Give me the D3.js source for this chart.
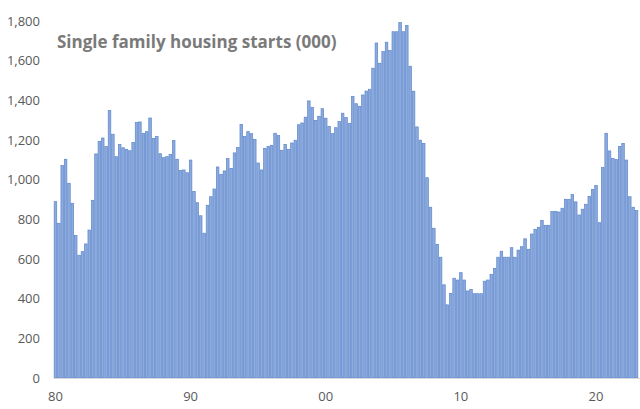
<!DOCTYPE html>
<html>
<head>
<meta charset="utf-8">
<script src="https://cdn.jsdelivr.net/npm/d3@7/dist/d3.min.js"></script>
<style>
  html, body { margin: 0; padding: 0; background: #ffffff; }
  svg { display: block; }
</style>
</head>
<body>
<svg id="chart" width="640" height="409"></svg>
<script>
// Quarterly single-family housing starts (000, SAAR), 1980Q1 .. 2023Q1
const quarters = d3.range(173).map(i => (1980 + Math.floor(i / 4)) + "Q" + (i % 4 + 1));
const starts = [
  889, 780, 1072, 1103, 982, 881, 718, 619, 637, 676, 746, 896,
  1130, 1192, 1210, 1167, 1348, 1229, 1116, 1178, 1161, 1153, 1146, 1188,
  1288, 1291, 1234, 1242, 1311, 1207, 1217, 1131, 1111, 1116, 1128, 1197,
  1103, 1046, 1049, 1035, 1099, 941, 884, 818, 730, 871, 914, 953,
  1064, 1027, 1044, 1106, 1057, 1135, 1162, 1279, 1217, 1242, 1232, 1203,
  1084, 1049, 1158, 1168, 1173, 1234, 1222, 1148, 1178, 1153, 1185, 1199,
  1277, 1286, 1315, 1397, 1365, 1299, 1320, 1358, 1310, 1269, 1232, 1262,
  1293, 1335, 1313, 1284, 1420, 1383, 1370, 1427, 1447, 1456, 1562, 1689,
  1587, 1646, 1693, 1651, 1746, 1746, 1792, 1746, 1778, 1572, 1446, 1266,
  1199, 1183, 1010, 861, 755, 674, 609, 470, 369, 427, 503, 494,
  531, 494, 439, 447, 425, 425, 425, 488, 494, 523, 553, 609,
  639, 609, 609, 657, 609, 645, 662, 702, 649, 726, 750, 760,
  795, 770, 770, 840, 840, 837, 856, 901, 901, 926, 888, 822,
  851, 876, 916, 951, 971, 783, 1061, 1234, 1145, 1106, 1101, 1168,
  1183, 1099, 914, 861, 844
];
const yTicks = [0, 200, 400, 600, 800, 1000, 1200, 1400, 1600, 1800];
const xTickIdx = [0, 40, 80, 120, 160];
const xTickLabels = ["80", "90", "00", "10", "20"];
const title = "Single family housing starts (000)";

const svg = d3.select("#chart");
const mLeft = 54, mRight = 638, mTop = 21, mBottom = 378;

const x = d3.scaleBand()
  .domain(quarters)
  .range([mLeft, mRight])
  .paddingInner(0.24)
  .paddingOuter(0.05);

const y = d3.scaleLinear().domain([0, 1800]).range([mBottom, mTop]);

// bars
svg.append("g")
  .selectAll("rect")
  .data(starts)
  .join("rect")
  .attr("x", (d, i) => x(quarters[i]))
  .attr("y", d => y(d))
  .attr("width", x.bandwidth())
  .attr("height", d => y(0) - y(d))
  .attr("fill", "#8eaadb")
  .attr("stroke", "#5a86cf")
  .attr("stroke-width", 0.7);

// x axis baseline
svg.append("line")
  .attr("x1", mLeft).attr("x2", mRight + 2)
  .attr("y1", mBottom + 0.5).attr("y2", mBottom + 0.5)
  .attr("stroke", "#d9d9d9").attr("stroke-width", 1);

// y axis labels
const yAxis = d3.axisLeft(y).tickValues(yTicks).tickFormat(d3.format(",")).tickSize(0).tickPadding(0);
const gy = svg.append("g").attr("transform", `translate(${40},0)`).call(yAxis);
gy.select(".domain").remove();
gy.selectAll("text")
  .attr("fill", "#595959")
  .style("font-family", "'Open Sans', 'Liberation Sans', sans-serif")
  .style("font-size", "13px");

// x axis labels
const xAxis = d3.axisBottom(x)
  .tickValues(xTickIdx.map(i => quarters[i]))
  .tickFormat((d, i) => xTickLabels[i])
  .tickSize(0).tickPadding(0);
const gx = svg.append("g").attr("transform", `translate(0,${mBottom + 14})`).call(xAxis);
gx.select(".domain").remove();
gx.selectAll("text")
  .attr("fill", "#595959")
  .style("font-family", "'Open Sans', 'Liberation Sans', sans-serif")
  .style("font-size", "13px");

// title
svg.append("text")
  .attr("x", 57).attr("y", 48)
  .attr("fill", "#7a7a7a")
  .style("font-family", "'Open Sans', 'Liberation Sans', sans-serif")
  .style("font-weight", "bold")
  .style("font-size", "17px")
  .text(title);
</script>
</body>
</html>
